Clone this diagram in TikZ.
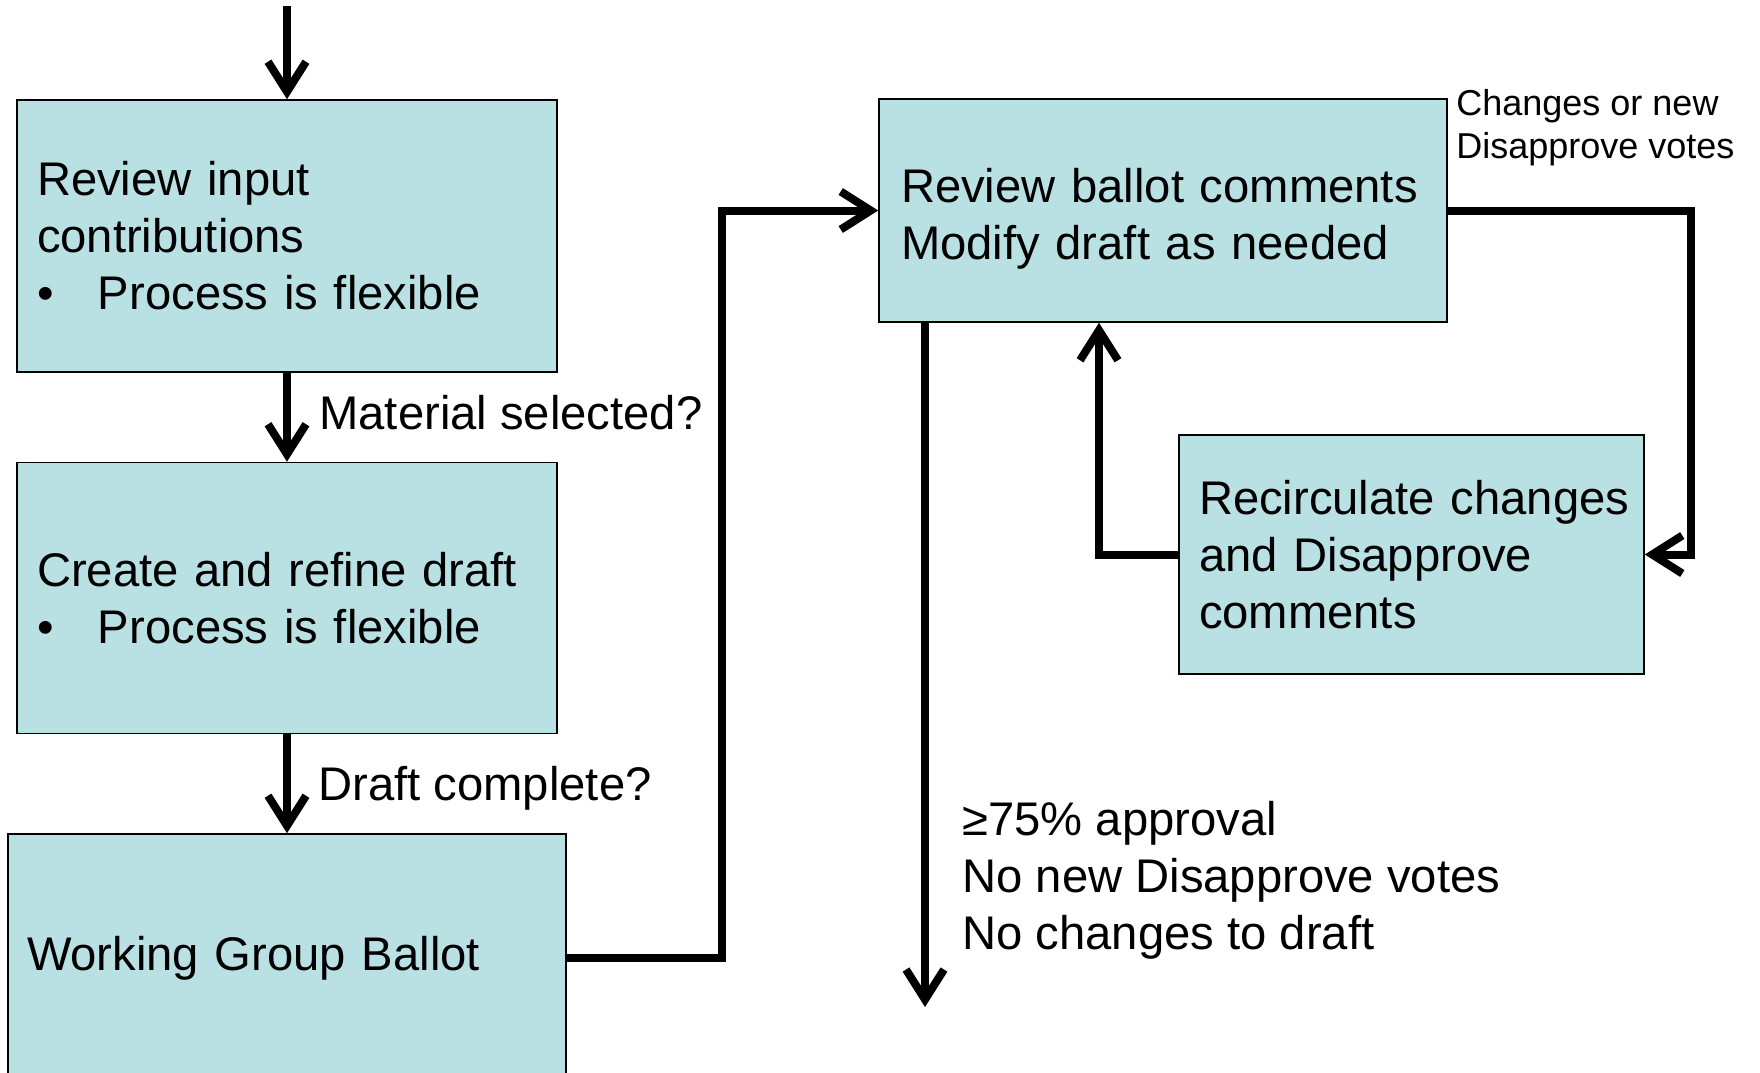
\documentclass[tikz,border=0pt]{standalone}
\usepackage{fontspec}
\setmainfont{Liberation Sans}
\usepackage{tikz}
\usetikzlibrary{arrows.meta}
\definecolor{boxfill}{RGB}{185,224,226}
\tikzset{
	stage/.style={rectangle, draw=black, line width=0.8pt, fill=boxfill, align=left, inner xsep=10pt, inner ysep=0pt, font=\fontsize{23.6}{28.5}\selectfont},
	flow/.style={line width=4pt, -{Straight Barb[length=15pt,width=19pt]}},
	note/.style={inner sep=0pt, anchor=west, align=left, font=\fontsize{23.6}{28.5}\selectfont}
}
\newcommand{\bulletitem}[1]{\makebox[30.5pt][l]{\textbullet}#1}
\hyphenpenalty=10000
\exhyphenpenalty=10000

\begin{document}
\begin{tikzpicture}[x=0.5pt, y=-0.5pt]
	\useasboundingbox (0,0) rectangle (1760,1072);
	\clip (0,0) rectangle (1760,1072);

	\node[stage, minimum width=270pt, minimum height=136pt, text width=250pt] (1) at (287,236) {Review input\\contributions\\\bulletitem{Process is flexible}};
	\node[stage, minimum width=270pt, minimum height=135.5pt, text width=250pt] (2) at (287,598) {Create and refine draft\\\bulletitem{Process is flexible}};
	\node[stage, minimum width=279pt, minimum height=124pt, text width=260pt, inner xsep=9.5pt] (3) at (287,958) {Working Group Ballot};
	\node[stage, minimum width=284pt, minimum height=111.5pt, text width=262pt, inner xsep=11pt] (4) at (1163,210.5) {\rule{0pt}{25pt}Review~ballot~comments\\Modify draft as needed};
	\node[stage, minimum width=232.5pt, minimum height=119.5pt, text width=212.5pt] (5) at (1411.5,554.5) {Recirculate~changes\\and Disapprove\\comments};

	\node[note] (sel) at (319,413) {Material selected?};
	\node[note] (done) at (318,788) {Draft complete?};
	\node[note] (pass) at (962,880) {≥75\% approval\\No new Disapprove votes\\No changes to draft};
	\node[note, font=\fontsize{18}{21.5}\selectfont] (again) at (1456,128) {Changes or new\\Disapprove votes};

	\coordinate (in) at (287,6);
	\coordinate (bend) at (722,0);
	\coordinate (loopR) at (1691,0);
	\coordinate (loopL) at (1099,0);
	\coordinate (out) at (925,1007);

	% draft stages
	\draw[flow] (in) -- (1.north);
	\draw[flow] (1) -- (2);
	\draw[flow] (2) -- (3);
	% ballot
	\draw[flow] (3.east) -- (3.east -| bend) |- (4.west);
	% recirculation
	\draw[flow] (4.east) -- (4.east -| loopR) |- (5.east);
	\draw[flow] (5.west) -| (4.south -| loopL);
	% approval
	\draw[flow] (4.south -| out) -- (out);
\end{tikzpicture}
\end{document}
